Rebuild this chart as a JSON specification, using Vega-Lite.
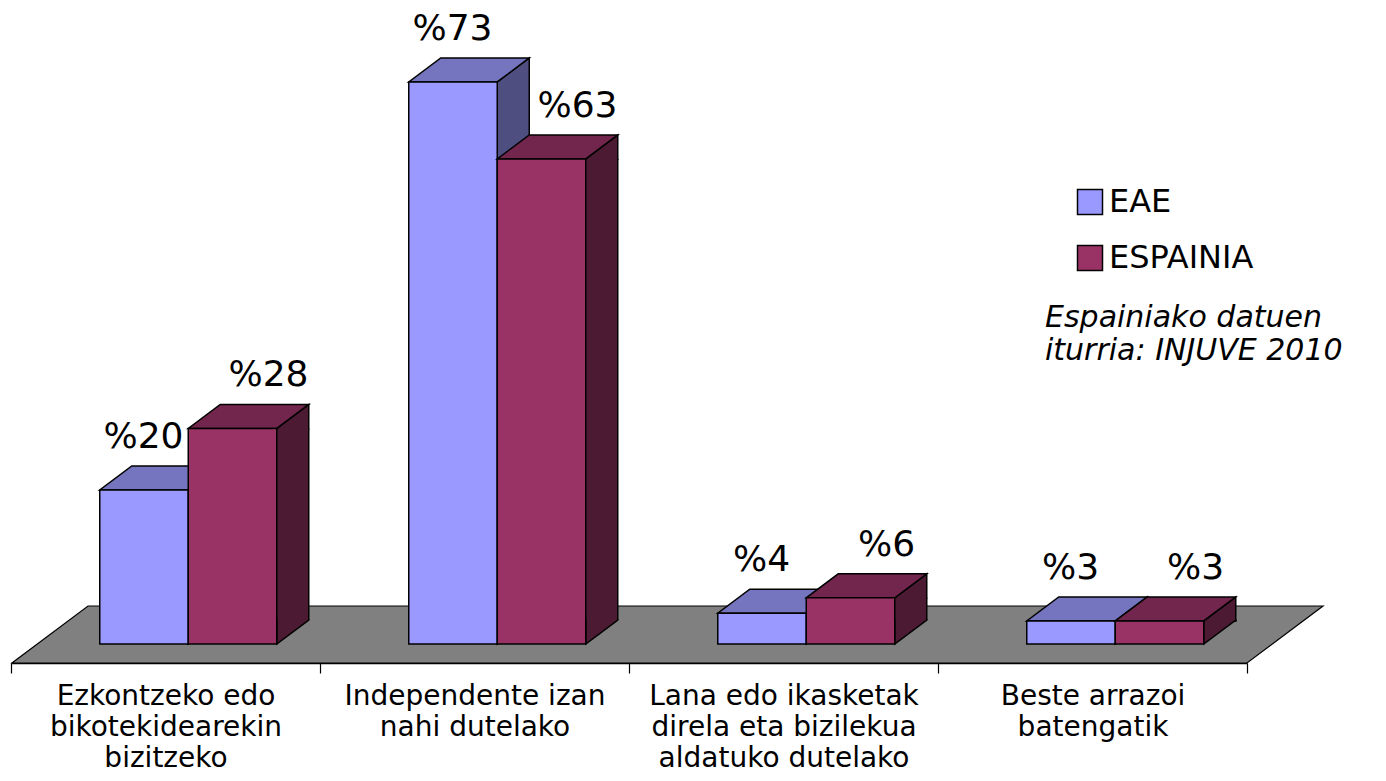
{
  "$schema": "https://vega.github.io/schema/vega-lite/v6.json",
  "autosize": {"type": "none"},
  "width": 1236,
  "height": 616,
  "padding": {"left": 11, "top": 28, "right": 139, "bottom": 137},
  "background": "white",
  "config": {"view": {"stroke": null}, "font": "DejaVu Sans"},
  "datasets": {
    "d": [
      {"category": "Ezkontzeko edo\nbikotekidearekin\nbizitzeko", "series": "EAE", "value": 20},
      {"category": "Ezkontzeko edo\nbikotekidearekin\nbizitzeko", "series": "ESPAINIA", "value": 28},
      {"category": "Independente izan\nnahi dutelako", "series": "EAE", "value": 73},
      {"category": "Independente izan\nnahi dutelako", "series": "ESPAINIA", "value": 63},
      {"category": "Lana edo ikasketak\ndirela eta bizilekua\naldatuko dutelako", "series": "EAE", "value": 4},
      {"category": "Lana edo ikasketak\ndirela eta bizilekua\naldatuko dutelako", "series": "ESPAINIA", "value": 6},
      {"category": "Beste arrazoi\nbatengatik", "series": "EAE", "value": 3},
      {"category": "Beste arrazoi\nbatengatik", "series": "ESPAINIA", "value": 3}
    ]
  },
  "data": {"name": "d"},
  "encoding": {
    "x": {
      "field": "category", "type": "nominal", "sort": null,
      "scale": {"paddingInner": 0, "paddingOuter": 0},
      "axis": {
        "title": null, "offset": 19, "domainColor": "black", "domainWidth": 1.5,
        "tickColor": "black", "tickWidth": 1.2, "tickSize": 10, "tickBand": "extent",
        "labelAngle": 0, "labelFont": "DejaVu Sans", "labelFontSize": 28, "labelColor": "black",
        "labelLineHeight": 31, "labelPadding": 9, "labelLimit": 400, "labelOverlap": false, "labelFlush": false,
        "labelExpr": "split(datum.label, '\\n')", "grid": false
      }
    },
    "y": {"field": "value", "type": "quantitative", "scale": {"domain": [0, 80], "nice": false}, "axis": null}
  },
  "layer": [
    {
      "transform": [{"window": [{"op": "row_number", "as": "rn"}]}, {"filter": "datum.rn === 1"}],
      "mark": {"type": "point", "shape": "M-153.5,19 L1081.5,19 L1157.5,-38 L-77.5,-38 Z", "size": 4, "filled": true, "fill": "#808080", "stroke": "black", "strokeWidth": 1.2, "opacity": 1},
      "encoding": {"y": {"datum": 0, "type": "quantitative"}}
    },
    {
      "transform": [{"filter": "datum.series === 'EAE'"}],
      "mark": {"type": "bar", "width": 32, "xOffset": 38.75, "y2Offset": -24, "fill": "#4E4E80", "strokeWidth": 0},
      "encoding": {"y2": {"datum": 0}}
    },
    {
      "transform": [{"filter": "datum.series === 'EAE'"}],
      "mark": {"type": "rule", "xOffset": 54.75, "y2Offset": -24, "color": "black", "strokeWidth": 1.5},
      "encoding": {"y2": {"datum": 0}}
    },
    {
      "transform": [{"filter": "datum.series === 'EAE'"}],
      "mark": {"type": "point", "shape": "M76.25,1 L76.25,-24 L44.25,0 L44.25,1", "size": 4, "filled": true, "fill": "#4E4E80", "stroke": "black", "strokeWidth": 1.5, "opacity": 1, "xOffset": -21.5}
    },
    {
      "transform": [{"filter": "datum.series === 'EAE'"}],
      "mark": {"type": "point", "shape": "M44.25,-25 L44.25,0 L76.25,-24 L76.25,-25", "size": 4, "filled": true, "fill": "#4E4E80", "stroke": "black", "strokeWidth": 1.5, "opacity": 1, "xOffset": -21.5},
      "encoding": {"y": {"datum": 0, "type": "quantitative"}}
    },
    {
      "transform": [{"filter": "datum.series === 'EAE'"}],
      "mark": {"type": "point", "shape": "M-44.25,0 L44.25,0 L76.25,-24 L-12.25,-24 Z", "size": 4, "filled": true, "fill": "#7474BF", "stroke": "black", "strokeWidth": 1.5, "opacity": 1, "xOffset": -21.5}
    },
    {
      "transform": [{"filter": "datum.series === 'EAE'"}],
      "mark": {"type": "bar", "width": 88.5, "xOffset": -21.5, "stroke": "black", "strokeWidth": 1.5},
      "encoding": {
        "y2": {"datum": 0},
        "color": {
          "field": "series", "type": "nominal",
          "scale": {"domain": ["EAE", "ESPAINIA"], "range": ["#9999FF", "#993366"]},
          "legend": {
            "orient": "none", "legendX": 1034, "legendY": 158, "padding": 0,
            "title": ["Espainiako datuen", "iturria: INJUVE 2010"],
            "titleOrient": "bottom", "titleAnchor": "start", "titleAlign": "left",
            "titleFont": "DejaVu Sans", "titleFontStyle": "italic", "titleFontWeight": "normal",
            "titleFontSize": 30, "titleLineHeight": 33, "titleColor": "black", "titlePadding": 29, "titleLimit": 600,
            "symbolType": "square", "symbolSize": 625, "symbolStrokeColor": "black", "symbolStrokeWidth": 1.5,
            "symbolOffset": 29, "labelFont": "DejaVu Sans", "labelFontSize": 32, "labelColor": "black",
            "labelOffset": 3, "labelLimit": 400, "rowPadding": 24
          }
        }
      }
    },
    {
      "transform": [{"filter": "datum.series === 'ESPAINIA'"}],
      "mark": {"type": "bar", "width": 32, "xOffset": 127.25, "y2Offset": -24, "fill": "#4D1A33", "strokeWidth": 0},
      "encoding": {"y2": {"datum": 0}}
    },
    {
      "transform": [{"filter": "datum.series === 'ESPAINIA'"}],
      "mark": {"type": "rule", "xOffset": 143.25, "y2Offset": -24, "color": "black", "strokeWidth": 1.5},
      "encoding": {"y2": {"datum": 0}}
    },
    {
      "transform": [{"filter": "datum.series === 'ESPAINIA'"}],
      "mark": {"type": "point", "shape": "M76.25,1 L76.25,-24 L44.25,0 L44.25,1", "size": 4, "filled": true, "fill": "#4D1A33", "stroke": "black", "strokeWidth": 1.5, "opacity": 1, "xOffset": 67}
    },
    {
      "transform": [{"filter": "datum.series === 'ESPAINIA'"}],
      "mark": {"type": "point", "shape": "M44.25,-25 L44.25,0 L76.25,-24 L76.25,-25", "size": 4, "filled": true, "fill": "#4D1A33", "stroke": "black", "strokeWidth": 1.5, "opacity": 1, "xOffset": 67},
      "encoding": {"y": {"datum": 0, "type": "quantitative"}}
    },
    {
      "transform": [{"filter": "datum.series === 'ESPAINIA'"}],
      "mark": {"type": "point", "shape": "M-44.25,0 L44.25,0 L76.25,-24 L-12.25,-24 Z", "size": 4, "filled": true, "fill": "#73264D", "stroke": "black", "strokeWidth": 1.5, "opacity": 1, "xOffset": 67}
    },
    {
      "transform": [{"filter": "datum.series === 'ESPAINIA'"}],
      "mark": {"type": "bar", "width": 88.5, "xOffset": 67, "stroke": "black", "strokeWidth": 1.5},
      "encoding": {
        "y2": {"datum": 0},
        "color": {"field": "series", "type": "nominal", "scale": {"domain": ["EAE", "ESPAINIA"], "range": ["#9999FF", "#993366"]}}
      }
    },
    {
      "transform": [{"filter": "datum.series === 'EAE'"}, {"calculate": "'%' + datum.value", "as": "label"}],
      "mark": {"type": "text", "xOffset": -22, "dy": -42, "baseline": "alphabetic", "align": "center", "font": "DejaVu Sans", "fontSize": 36, "color": "black"},
      "encoding": {"text": {"field": "label"}}
    },
    {
      "transform": [{"filter": "datum.series === 'ESPAINIA'"}, {"calculate": "'%' + datum.value", "as": "label"}],
      "mark": {"type": "text", "xOffset": 103, "dy": -42, "baseline": "alphabetic", "align": "center", "font": "DejaVu Sans", "fontSize": 36, "color": "black"},
      "encoding": {"text": {"field": "label"}}
    }
  ]
}
